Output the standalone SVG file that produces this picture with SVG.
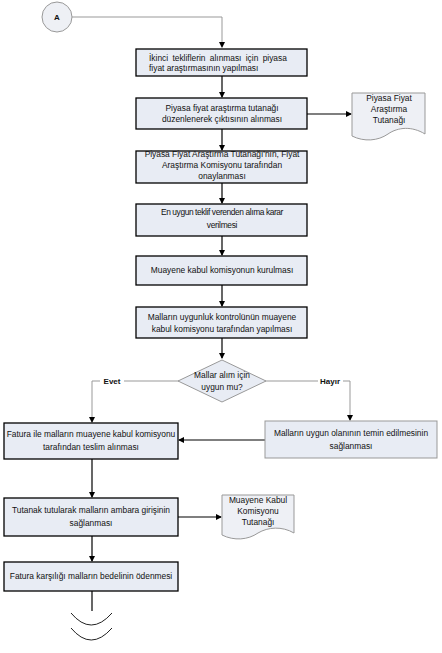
<svg xmlns="http://www.w3.org/2000/svg" width="442" height="653" viewBox="0 0 442 653">
<defs>
<marker id="ah" markerWidth="6" markerHeight="6" refX="5" refY="3" orient="auto" markerUnits="userSpaceOnUse">
<path d="M0,0 L6,3 L0,6 Z" fill="#000"/>
</marker>
<style>
.box{fill:#e8ecf4;stroke:#000;stroke-width:1.3}
.boxg{fill:#e8ecf4;stroke:#999;stroke-width:1}
.doc{fill:#eef0f5;stroke:#999;stroke-width:1}
.t{font-family:"Liberation Sans",Arial,sans-serif;font-size:8.4px;fill:#111;text-anchor:middle}
.tl{font-family:"Liberation Sans",Arial,sans-serif;font-size:8.4px;fill:#111;text-anchor:start}
.lbl{font-family:"Liberation Sans",Arial,sans-serif;font-size:8px;font-weight:bold;fill:#111;text-anchor:middle}
.c{fill:none;stroke:#000;stroke-width:1.2}
.cg{fill:none;stroke:#999;stroke-width:1}
.cl{fill:none;stroke:#bbb;stroke-width:1.3}
</style>
</defs>
<rect width="442" height="653" fill="#fff"/>
<g id="connectors">
<path class="cg" d="M72,17 H222 V47" marker-end="url(#ah)"/>
<path class="c" d="M222,76 V97" marker-end="url(#ah)"/>
<path class="c" d="M307,114 H351" marker-end="url(#ah)"/>
<path class="c" d="M222,129 V150" marker-end="url(#ah)"/>
<path class="c" d="M222,183 V203" marker-end="url(#ah)"/>
<path class="c" d="M222,236 V255" marker-end="url(#ah)"/>
<path class="c" d="M222,285 V306" marker-end="url(#ah)"/>
<path class="c" d="M222,338 V358" marker-end="url(#ah)"/>
<path class="cl" d="M179,381 H92"/>
<path class="cg" d="M92,381 V422" marker-end="url(#ah)"/>
<path class="cl" d="M265,381 H350"/>
<path class="cg" d="M350,381 V420" marker-end="url(#ah)"/>
<path class="c" d="M265,440 H179" marker-end="url(#ah)"/>
<path class="c" d="M92,459 V497" marker-end="url(#ah)"/>
<path class="c" d="M178,517 H221" marker-end="url(#ah)"/>
<path class="c" d="M92,536 V561" marker-end="url(#ah)"/>
<path class="c" d="M92,591 V611"/>
<path fill="none" stroke="#222" stroke-width="1" d="M71,613 Q91,637 112,613"/>
<path fill="none" stroke="#222" stroke-width="1" d="M71,628 Q91,652 112,628"/>
<rect x="100" y="376" width="24" height="10" fill="#fff"/>
<text class="lbl" x="112" y="384">Evet</text>
<rect x="318" y="376" width="25" height="10" fill="#fff"/>
<text class="lbl" x="330" y="384">Hayır</text>
</g>
<g id="startA">
<circle cx="57" cy="17" r="15" fill="#eef0f5" stroke="#999" stroke-width="1"/>
<text class="lbl" x="57" y="20">A</text>
</g>
<g id="box1">
<rect class="box" x="136" y="49" width="171" height="27"/>
<text class="tl" x="149" y="61" word-spacing="2">İkinci tekliflerin alınması için piyasa</text>
<text class="tl" x="149" y="71">fiyat araştırmasının yapılması</text>
</g>
<g id="box2">
<rect class="box" x="136" y="98" width="171" height="31"/>
<text class="t" x="222" y="111">Piyasa fiyat araştırma tutanağı</text>
<text class="t" x="222" y="122">düzenlenerek çıktısının alınması</text>
</g>
<g id="doc1">
<path class="doc" d="M352,93 H425 V134 C412,126 398,127 388,134 C378,141 364,142 352,136 Z"/>
<text class="t" x="389" y="101">Piyasa Fiyat</text>
<text class="t" x="389" y="112">Araştırma</text>
<text class="t" x="389" y="123">Tutanağı</text>
</g>
<g id="box3">
<rect class="box" x="136" y="151" width="171" height="32"/>
<text class="t" x="222" y="157">Piyasa Fiyat Araştırma Tutanağı'nın, Fiyat</text>
<text class="t" x="222" y="168">Araştırma  Komisyonu tarafından</text>
<text class="t" x="222" y="179">onaylanması</text>
</g>
<g id="box4">
<rect class="box" x="136" y="204" width="171" height="32"/>
<text class="t" x="222" y="215" letter-spacing="-0.4">En uygun teklif verenden alıma karar</text>
<text class="t" x="222" y="228" letter-spacing="-0.3">verilmesi</text>
</g>
<g id="box5">
<rect class="box" x="136" y="256" width="171" height="29"/>
<text class="t" x="222" y="273">Muayene kabul komisyonun kurulması</text>
</g>
<g id="box6">
<rect class="box" x="136" y="307" width="171" height="31"/>
<text class="t" x="222" y="320">Malların uygunluk kontrolünün muayene</text>
<text class="t" x="222" y="332">kabul komisyonu tarafından yapılması</text>
</g>
<g id="decision">
<path d="M222,360 L266,381 L222,402 L178,381 Z" fill="#e8ecf4" stroke="#999" stroke-width="1"/>
<text class="t" x="222" y="378">Mallar alım için</text>
<text class="t" x="222" y="390">uygun mu?</text>
</g>
<g id="box7">
<rect class="box" x="4" y="423" width="174" height="36"/>
<text class="t" x="91" y="437">Fatura ile malların muayene kabul komisyonu</text>
<text class="t" x="91" y="450">tarafından teslim alınması</text>
</g>
<g id="box8">
<rect class="boxg" x="265" y="421" width="172" height="37"/>
<text class="t" x="351" y="436">Malların uygun olanının temin edilmesinin</text>
<text class="t" x="351" y="449">sağlanması</text>
</g>
<g id="box9">
<rect class="box" x="4" y="498" width="174" height="38"/>
<text class="t" x="91" y="513">Tutanak tutularak malların ambara girişinin</text>
<text class="t" x="91" y="526">sağlanması</text>
</g>
<g id="doc2">
<path class="doc" d="M222,495 H294 V533 C282,526 268,527 258,533 C248,540 234,541 222,535 Z"/>
<text class="t" x="258" y="503">Muayene Kabul</text>
<text class="t" x="258" y="514">Komisyonu</text>
<text class="t" x="258" y="525">Tutanağı</text>
</g>
<g id="box10">
<rect class="box" x="4" y="562" width="174" height="29"/>
<text class="t" x="91" y="579">Fatura karşılığı malların bedelinin ödenmesi</text>
</g>
</svg>
